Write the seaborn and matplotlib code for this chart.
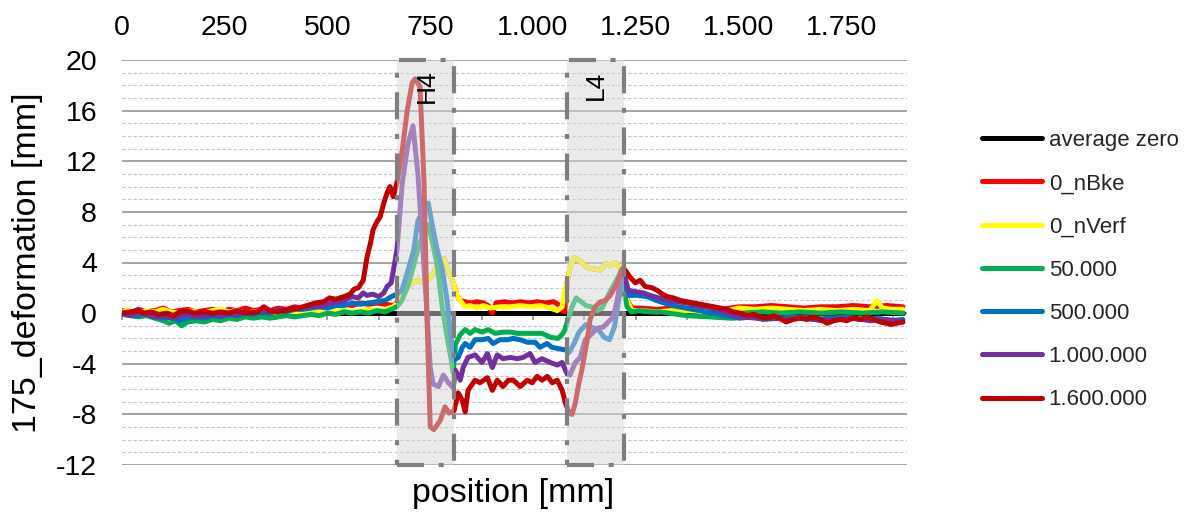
import numpy as np
import pandas as pd
import matplotlib
matplotlib.use("Agg")
import matplotlib.pyplot as plt
import seaborn as sns

# ---------------- data ----------------
series_names = ["average zero", "0_nBke", "0_nVerf", "50.000", "500.000",
                "1.000.000", "1.600.000"]
series_colors = ["#000000", "#FF0000", "#FFFF00", "#00B050", "#0070C0",
                 "#7030A0", "#C00000"]

avg_x = [0, 1900]
avg_y = [0.0, 0.0]

nbke_x = [0, 20, 40, 60, 80, 100, 120, 140, 160, 180, 200, 220, 240, 260, 280,
          300, 320, 340, 360, 380, 400, 420, 440, 460, 480, 500, 520, 540, 560,
          580, 600, 620, 640, 660, 675, 689, 706, 720, 732, 750, 762, 774, 784,
          793, 806, 815, 823, 835, 847, 864, 879, 891, 901, 910, 930, 950, 970,
          990, 1010, 1030, 1050, 1065, 1071, 1078, 1083, 1090, 1100, 1115, 1132,
          1146, 1164, 1176, 1188, 1200, 1212, 1220, 1229, 1241, 1261, 1300, 1340,
          1380, 1420, 1460, 1500, 1540, 1580, 1620, 1660, 1700, 1740, 1780, 1820,
          1860, 1900]
nbke_y = [0.2, 0.0, 0.3, 0.1, 0.2, 0.4, 0.1, 0.2, 0.3, 0.1, 0.2, 0.3, 0.1, 0.3,
          0.2, 0.4, 0.2, 0.3, 0.2, 0.4, 0.3, 0.5, 0.4, 0.5, 0.6, 0.5, 0.6, 0.7,
          0.6, 0.8, 0.7, 0.8, 0.7, 0.6, 1.0, 1.8, 2.4, 2.6, 2.4, 2.8, 3.4, 4.2,
          4.3, 3.4, 2.4, 1.4, 1.0, 0.9, 0.8, 0.9, 0.8, 0.6, 0.0, 0.8, 0.9, 0.8,
          0.9, 0.8, 0.9, 0.8, 0.9, 0.6, 0.2, 0.1, 2.4, 3.6, 4.4, 4.1, 3.6, 3.5,
          3.4, 3.9, 3.8, 4.0, 3.6, 3.8, 1.0, 0.4, 0.4, 0.3, 0.4, 0.4, 0.3, 0.3,
          0.5, 0.5, 0.6, 0.5, 0.4, 0.5, 0.5, 0.6, 0.5, 0.6, 0.5]

nverf_x = [0, 20, 40, 60, 80, 100, 120, 140, 160, 180, 200, 220, 240, 260, 280,
           300, 320, 340, 360, 380, 400, 420, 440, 460, 480, 500, 520, 540, 560,
           580, 600, 620, 640, 660, 675, 689, 706, 720, 732, 750, 762, 774, 784,
           793, 806, 815, 823, 835, 847, 864, 879, 896, 920, 945, 969, 993, 1017,
           1042, 1059, 1071, 1076, 1083, 1090, 1100, 1115, 1132, 1146, 1164, 1176,
           1188, 1200, 1212, 1220, 1229, 1241, 1261, 1300, 1340, 1380, 1420, 1460,
           1500, 1540, 1580, 1620, 1660, 1700, 1740, 1780, 1820, 1837, 1850, 1875,
           1900]
nverf_y = [0.1, 0.2, 0.0, 0.2, 0.1, 0.3, 0.1, 0.0, 0.2, 0.1, 0.0, 0.2, 0.3, 0.1,
           0.2, 0.0, 0.1, 0.2, 0.0, 0.1, 0.0, 0.1, 0.0, 0.2, 0.1, 0.0, 0.1, 0.2,
           0.1, 0.2, 0.3, 0.2, 0.3, 0.5, 1.0, 1.8, 2.4, 2.6, 2.4, 2.8, 3.4, 4.2,
           4.3, 3.4, 2.4, 1.4, 1.0, 0.5, 0.6, 0.4, 0.6, 0.4, 0.5, 0.5, 0.6, 0.5,
           0.6, 0.4, 0.2, 0.5, 1.6, 2.4, 3.6, 4.4, 4.1, 3.6, 3.5, 3.4, 3.9, 3.8,
           4.0, 3.6, 3.8, 1.0, 0.2, 0.2, 0.1, 0.2, 0.2, 0.1, 0.1, 0.4, 0.3, 0.4,
           0.3, 0.2, 0.3, 0.2, 0.3, 0.2, 1.0, 0.4, 0.3, 0.3]

g50k_x = [0, 20, 40, 60, 80, 100, 115, 130, 145, 160, 180, 200, 220, 240, 260,
          280, 300, 320, 340, 360, 380, 400, 420, 440, 460, 480, 500, 520, 540,
          560, 580, 600, 620, 640, 655, 669, 681, 696, 710, 722, 737, 745, 754,
          767, 779, 791, 800, 806, 811, 823, 835, 847, 859, 876, 891, 908, 927,
          945, 962, 981, 1000, 1022, 1042, 1061, 1073, 1078, 1083, 1095, 1105,
          1117, 1129, 1142, 1156, 1168, 1186, 1203, 1215, 1222, 1229, 1239, 1258,
          1283, 1310, 1373, 1431, 1480, 1492, 1510, 1560, 1600, 1650, 1700, 1750,
          1800, 1850, 1900]
g50k_y = [-0.1, -0.2, -0.3, -0.2, -0.4, -0.6, -0.8, -0.6, -1.0, -0.7, -0.6,
          -0.7, -0.5, -0.6, -0.4, -0.5, -0.3, -0.4, -0.3, -0.4, -0.3, -0.2, -0.3,
          -0.2, -0.1, -0.2, 0.0, -0.1, 0.1, 0.0, 0.1, 0.0, 0.2, 0.1, 0.3, 0.5,
          1.0, 2.2, 3.8, 5.3, 6.6, 7.0, 5.8, 3.8, 0.5, -1.9, -3.5, -4.7, -2.5,
          -1.7, -1.3, -1.6, -1.3, -1.5, -1.3, -1.6, -1.5, -1.5, -1.6, -1.6, -1.6,
          -1.6, -1.9, -2.0, -1.6, -1.3, -0.7, 0.5, 1.2, 0.9, 0.6, 0.5, 0.2, 0.4,
          1.6, 2.6, 3.4, 1.6, 0.5, 0.1, 0.2, 0.1, 0.1, -0.2, -0.3, -0.4, -0.4,
          0.0, 0.1, 0.0, 0.1, 0.0, 0.1, 0.0, 0.1, 0.0]

b500k_x = [0, 20, 40, 60, 80, 100, 120, 140, 160, 180, 200, 220, 240, 260, 280,
           300, 320, 340, 360, 380, 400, 420, 440, 460, 480, 500, 520, 540, 560,
           580, 600, 620, 640, 655, 669, 681, 696, 710, 720, 737, 745, 754, 767,
           779, 791, 800, 808, 818, 828, 835, 847, 859, 876, 891, 903, 920, 937,
           952, 969, 986, 1005, 1017, 1034, 1046, 1061, 1078, 1088, 1100, 1112,
           1129, 1142, 1159, 1173, 1186, 1198, 1210, 1219, 1232, 1254, 1278, 1300,
           1339, 1404, 1470, 1502, 1534, 1560, 1600, 1640, 1680, 1720, 1760, 1800,
           1840, 1870, 1900]
b500k_y = [0.0, -0.1, -0.2, 0.0, -0.3, -0.4, -0.3, -0.6, -0.4, -0.3, -0.4,
           -0.2, -0.3, -0.1, -0.2, 0.0, -0.1, 0.1, 0.0, 0.2, 0.1, 0.3, 0.3, 0.4,
           0.5, 0.4, 0.6, 0.6, 0.8, 0.7, 0.8, 0.9, 1.0, 1.3, 1.5, 1.8, 3.4, 5.0,
           7.3, 8.4, 8.7, 7.1, 5.0, 3.5, 1.0, -1.8, -3.7, -3.5, -2.7, -2.4, -2.7,
           -2.1, -2.1, -2.0, -2.4, -2.1, -2.1, -2.0, -2.1, -2.3, -2.3, -2.7, -2.4,
           -2.7, -2.8, -2.9, -3.1, -2.4, -1.5, -0.9, -1.1, -1.3, -1.9, -2.1, -1.1,
           1.3, 3.2, 1.4, 1.4, 1.3, 1.0, 0.6, 0.2, -0.2, -0.4, -0.3, -0.5, -0.4,
           -0.3, -0.5, -0.4, -0.3, -0.5, -0.4, -0.6, -0.5]

p1m_x = [0, 20, 40, 60, 80, 100, 120, 140, 160, 180, 200, 220, 240, 260, 280,
         300, 320, 340, 360, 380, 400, 420, 440, 460, 480, 500, 520, 540, 560,
         575, 587, 596, 610, 625, 637, 645, 655, 669, 682, 696, 708, 720, 730,
         740, 750, 757, 770, 782, 794, 806, 811, 823, 830, 842, 859, 876, 889,
         901, 913, 927, 945, 962, 976, 993, 1005, 1022, 1042, 1059, 1071, 1083,
         1090, 1103, 1115, 1127, 1144, 1156, 1171, 1183, 1195, 1205, 1212, 1219,
         1232, 1249, 1268, 1285, 1327, 1375, 1424, 1473, 1504, 1546, 1585, 1620,
         1660, 1700, 1740, 1780, 1820, 1860, 1900]
p1m_y = [0.0, -0.2, 0.0, -0.1, -0.3, -0.2, -0.4, -0.2, -0.1, -0.3, -0.2, -0.1,
         -0.2, 0.0, -0.1, 0.1, 0.0, 0.2, 0.1, 0.3, 0.2, 0.4, 0.4, 0.6, 0.5, 0.7,
         0.9, 1.0, 1.3, 1.2, 1.6, 1.4, 1.5, 1.3, 1.6, 2.1, 2.4, 5.0, 10.3, 13.4,
         14.8, 11.0, 6.0, 1.0, -4.3, -5.6, -5.8, -4.9, -5.5, -5.9, -4.5, -5.3,
         -4.3, -3.5, -3.3, -3.9, -3.2, -4.3, -3.3, -3.6, -3.5, -3.6, -3.5, -3.2,
         -3.9, -3.6, -3.9, -4.1, -3.9, -4.8, -4.9, -3.9, -3.5, -2.1, -1.6, -1.2,
         -1.1, -0.7, -0.3, 1.0, 2.6, 3.4, 1.8, 1.7, 1.6, 1.4, 1.0, 0.8, 0.5, 0.0,
         -0.3, -0.4, -0.4, -0.5, -0.3, -0.6, -0.5, -0.4, -0.6, -0.5, -0.7]

r16m_x = [0, 20, 40, 55, 70, 90, 110, 125, 140, 160, 175, 200, 220, 240, 260,
          280, 300, 330, 345, 360, 375, 395, 410, 430, 450, 470, 490, 505, 520,
          540, 555, 565, 575, 587, 596, 605, 611, 620, 628, 637, 645, 652, 660,
          669, 682, 694, 706, 713, 725, 735, 742, 750, 759, 774, 786, 796, 808,
          818, 828, 835, 842, 859, 871, 889, 901, 913, 927, 940, 952, 969, 986,
          998, 1010, 1022, 1035, 1047, 1059, 1071, 1078, 1088, 1095, 1103, 1110,
          1120, 1132, 1139, 1151, 1164, 1176, 1188, 1205, 1217, 1224, 1237, 1249,
          1261, 1273, 1290, 1302, 1315, 1327, 1342, 1358, 1375, 1390, 1408, 1424,
          1440, 1456, 1472, 1487, 1505, 1521, 1537, 1553, 1570, 1585, 1600, 1616,
          1633, 1650, 1666, 1682, 1700, 1716, 1732, 1748, 1763, 1779, 1796, 1813,
          1829, 1845, 1860, 1870, 1885, 1900]
r16m_y = [0.0, 0.1, 0.2, 0.0, 0.1, -0.1, 0.0, -0.2, 0.1, 0.2, 0.0, 0.1, 0.0,
          0.1, 0.0, 0.2, 0.0, 0.1, 0.5, 0.2, 0.1, 0.2, 0.3, 0.4, 0.6, 0.8, 0.9,
          1.2, 1.1, 1.3, 1.5, 1.9, 2.0, 2.6, 4.4, 5.6, 6.6, 7.2, 7.6, 8.7, 9.5,
          10.0, 9.2, 10.3, 12.9, 16.0, 18.2, 18.5, 17.9, 10.3, -0.3, -9.0, -9.2,
          -8.5, -7.4, -7.9, -7.7, -6.3, -6.9, -7.8, -6.1, -5.3, -5.5, -5.1, -6.1,
          -5.3, -5.8, -5.3, -5.3, -5.8, -5.3, -5.5, -5.0, -5.3, -5.0, -5.5, -5.3,
          -6.1, -7.0, -7.9, -8.0, -7.1, -5.8, -4.3, -2.1, -0.5, 0.5, 0.9, 1.0,
          1.4, 2.4, 3.5, 3.4, 2.8, 2.4, 2.6, 2.1, 2.0, 1.8, 1.5, 1.3, 1.2, 1.0,
          0.9, 0.8, 0.7, 0.6, 0.5, 0.4, 0.3, 0.1, 0.0, -0.2, -0.1, -0.3, -0.4,
          -0.2, -0.4, -0.7, -0.5, -0.4, -0.5, -0.3, -0.5, -0.8, -0.6, -0.5, -0.6,
          -0.4, -0.5, -0.3, -0.5, -0.7, -0.8, -0.9, -0.8, -0.7]

# shaded inspection zones: (start, end, label)
zone_names = ["H4", "L4"]
zone_start = [670, 1083]
zone_end = [808, 1221]
zone_label_x = [742, 1154]
zone_label_y = [17.9, 18.0]

x_tick_vals = [0, 250, 500, 750, 1000, 1250, 1500, 1750]
x_tick_labels = ["0", "250", "500", "750", "1.000", "1.250", "1.500", "1.750"]
x_minor_ticks = list(range(0, 1901, 125))
y_tick_vals = [-12, -8, -4, 0, 4, 8, 12, 16, 20]
y_tick_labels = ["-12", "-8", "-4", "0", "4", "8", "12", "16", "20"]

# ---------------- figure ----------------
sns.set_style("white")
plt.rcParams["font.family"] = ["Liberation Sans", "DejaVu Sans"]
plt.rcParams["axes.unicode_minus"] = False
plt.rcParams["text.color"] = "black"
plt.rcParams["axes.labelcolor"] = "black"
plt.rcParams["xtick.color"] = "black"
plt.rcParams["ytick.color"] = "black"

xs = [avg_x, nbke_x, nverf_x, g50k_x, b500k_x, p1m_x, r16m_x]
ys = [avg_y, nbke_y, nverf_y, g50k_y, b500k_y, p1m_y, r16m_y]
frames = []
for name, sx, sy in zip(series_names, xs, ys):
    frames.append(pd.DataFrame({"position": sx, "deformation": sy,
                                "series": name}))
df = pd.concat(frames, ignore_index=True)

W, H, DPI = 1193, 514, 100
fig = plt.figure(figsize=(W / DPI, H / DPI), dpi=DPI)
ax = fig.add_axes([122 / W, 1 - 465 / H, 785 / W, 405 / H])

sns.lineplot(data=df, x="position", y="deformation", hue="series",
             hue_order=series_names, palette=series_colors, linewidth=3.6,
             estimator=None, sort=False, legend=False, ax=ax, zorder=2)

ax.set_xlim(0, 1910)
ax.set_ylim(-12, 20)

# horizontal grid: solid every 4, dashed every 1
ax.set_yticks(y_tick_vals, labels=y_tick_labels)
ax.yaxis.set_minor_locator(matplotlib.ticker.MultipleLocator(1))
ax.set_axisbelow(True)
ax.grid(axis="y", which="major", color="#8C8C8C", lw=1.1, ls="-")
ax.grid(axis="y", which="minor", color="#C4C4C4", lw=0.8, ls=(0, (3, 2)))
ax.grid(axis="x", which="both", visible=False)
ax.tick_params(axis="y", which="both", length=0, pad=18, labelsize=20.5)

for sp in ax.spines.values():
    sp.set_visible(False)

# category ticks along the zero line
ax.spines["bottom"].set_position(("data", 0))
ax.set_xticks(x_minor_ticks)
ax.tick_params(axis="x", which="major", direction="out", length=5, width=1.2,
               color="#8C8C8C", labelbottom=False, bottom=True)

# labelled scale on top
top = ax.secondary_xaxis("top")
top.set_xticks(x_tick_vals, labels=x_tick_labels)
top.tick_params(length=0, pad=14, labelsize=20.5)
for sp in top.spines.values():
    sp.set_visible(False)

# inspection zones
for x0, x1, lab, lx, ly in zip(zone_start, zone_end, zone_names,
                               zone_label_x, zone_label_y):
    ax.axvspan(x0, x1, facecolor=(0.843, 0.843, 0.843, 0.5),
               edgecolor="#7F7F7F", lw=3, ls=(0, (6.5, 3.5, 1.2, 3.5)),
               zorder=3, clip_on=False)
    ax.text(lx, ly, lab, rotation=90, ha="center", va="center", fontsize=19,
            color="black", zorder=5)

ax.set_xlabel("position [mm]", fontsize=24.5)
ax.xaxis.set_label_coords(0.498, -0.032)
ax.set_ylabel("175_deformation [mm]", fontsize=24.5)
ax.yaxis.set_label_coords(-0.1, 0.5)

handles = ax.get_lines()[:len(series_names)]
leg = ax.legend(handles, series_names, loc="upper left",
                bbox_to_anchor=(982 / W, 1 - 130 / H),
                bbox_transform=fig.transFigure, frameon=False, borderpad=0,
                borderaxespad=0, handlelength=2.7, handletextpad=0.3,
                labelspacing=1.0, fontsize=16)
for t in leg.get_texts():
    t.set_color("#262626")

fig.savefig("out.png", dpi=DPI)
